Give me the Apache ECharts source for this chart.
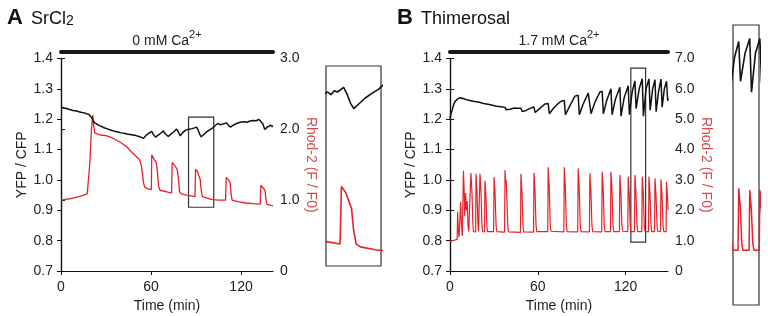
<!DOCTYPE html>
<html>
<head>
<meta charset="utf-8">
<script src="https://cdn.jsdelivr.net/npm/echarts@6/dist/echarts.min.js"></script>
<style>
html, body { margin: 0; padding: 0; background: #fff; }
#chart { width: 768px; height: 316px; }
</style>
</head>
<body>
<div id="chart"></div>
<script>
// panel A: SrCl2 in 0 mM Ca2+ ; [time (min), value]
var a_ratio = [[0,1.241],[1,1.238],[2,1.236],[3.5,1.236],[5,1.233],[6.5,1.231],[8,1.229],[9.5,1.228],[11,1.226],[12.5,1.224],[14,1.222],[15.5,1.221],[17,1.218],[18.5,1.216],[19.5,1.213],[20.5,1.205],[21.5,1.195],[22.5,1.188],[24,1.184],[25.5,1.179],[27,1.176],[28.5,1.172],[30,1.170],[32,1.166],[34,1.163],[36,1.160],[38,1.158],[40,1.155],[42,1.154],[44,1.151],[46,1.150],[48,1.148],[50,1.146],[52,1.143],[53.5,1.140],[55,1.137],[56.5,1.146],[58,1.152],[60.4,1.160],[61.5,1.150],[63,1.141],[64.5,1.147],[66,1.152],[68.2,1.161],[69.5,1.152],[71.5,1.143],[73,1.150],[75,1.158],[77,1.168],[78.2,1.158],[79.5,1.145],[81,1.155],[83,1.164],[84,1.163],[85.5,1.167],[86.5,1.163],[87.5,1.169],[88.5,1.167],[90.4,1.174],[91.5,1.163],[92.5,1.150],[93.5,1.142],[95,1.149],[97,1.158],[99,1.165],[101,1.171],[103,1.180],[104.5,1.186],[106,1.182],[108,1.184],[110.4,1.188],[111.5,1.180],[113,1.174],[115,1.181],[117,1.186],[119.5,1.190],[122,1.192],[124,1.190],[126,1.194],[128,1.196],[130,1.195],[132,1.199],[133.3,1.200],[134.5,1.185],[135.8,1.166],[137.5,1.174],[139.5,1.180],[141.3,1.176]];
var a_rhod = [[0,1.00],[3,1.01],[6,1.02],[9,1.035],[12,1.05],[15,1.07],[17.5,1.09],[18.5,1.11],[19.3,1.55],[20.3,2.0],[21.2,2.2],[21.8,2.05],[22.5,1.95],[23.5,1.93],[26,1.92],[30,1.91],[33,1.89],[36,1.86],[40,1.81],[44,1.75],[47,1.68],[50,1.62],[52.4,1.57],[53.6,1.48],[54.4,1.35],[55,1.24],[56,1.18],[58,1.16],[60.2,1.15],[60.5,1.64],[62,1.58],[63.5,1.53],[64.3,1.40],[65,1.20],[66,1.14],[70,1.12],[73.7,1.10],[74.1,1.53],[75.5,1.50],[77.5,1.43],[78.3,1.30],[79,1.12],[80,1.09],[84,1.07],[89.3,1.05],[89.7,1.44],[91,1.40],[92.8,1.29],[93.4,1.15],[94.2,1.05],[95.5,1.03],[100,1.01],[105,1.00],[109.7,1.00],[110.1,1.32],[111.5,1.29],[112.7,1.25],[113.3,1.10],[114,1.0],[118,0.98],[123,0.96],[128,0.95],[132.8,0.945],[133.2,1.21],[134.5,1.19],[136,1.14],[136.6,1.0],[137.3,0.94],[139.5,0.93],[141.3,0.92]];

// panel B: thimerosal in 1.7 mM Ca2+
var b_ratio = [[0,1.203],[0.8,1.22],[1.6,1.232],[2.5,1.248],[3.4,1.258],[5,1.266],[6.8,1.271],[8,1.265],[9,1.268],[12,1.263],[15,1.26],[17,1.258],[20,1.256],[23,1.252],[26,1.249],[29,1.246],[32,1.243],[35,1.241],[37.6,1.239],[38.4,1.231],[41,1.233],[44,1.237],[46,1.236],[48.5,1.236],[49.3,1.225],[52,1.229],[55.8,1.238],[57.4,1.24],[58.2,1.222],[61,1.234],[64.9,1.25],[67.1,1.252],[67.9,1.218],[71,1.238],[74,1.252],[76.3,1.26],[78.1,1.262],[78.9,1.215],[82,1.245],[85.4,1.276],[87.6,1.279],[88.4,1.215],[91,1.25],[94.5,1.286],[95.6,1.288],[96.4,1.218],[99,1.255],[102.5,1.29],[104,1.292],[104.8,1.218],[107,1.26],[110,1.3],[110.8,1.215],[113,1.265],[116.1,1.305],[116.9,1.21],[119,1.27],[121.8,1.31],[122.6,1.215],[124.5,1.29],[126.4,1.326],[127.2,1.235],[129.3,1.3],[131.4,1.333],[132.2,1.21],[134,1.3],[136,1.333],[136.8,1.23],[138.5,1.3],[140.1,1.33],[140.9,1.225],[142.5,1.29],[144.2,1.332],[145,1.24],[146.5,1.3],[148,1.325],[148.8,1.26],[149,1.27]];
var b_rhod = [[0,0.99],[2,1.0],[3.5,1.02],[4.9,1.05],[5.2,1.95],[5.7,1.35],[6.2,1.12],[7.0,1.12],[7.3,2.28],[7.8,1.55],[8.4,1.15],[8.9,1.18],[9.2,3.30],[9.7,2.6],[10.1,1.8],[10.7,2.57],[11.2,2.0],[11.8,2.3],[12.3,1.5],[12.8,1.3],[14.0,1.28],[14.3,3.23],[15.0,2.6],[15.6,1.6],[16.0,1.3],[17.5,1.29],[17.8,3.20],[18.5,2.6],[19.1,1.55],[19.5,1.3],[20.2,1.29],[20.5,3.20],[21.2,2.6],[21.8,1.55],[22.2,1.3],[23.6,1.29],[23.9,2.97],[24.6,2.45],[25.2,1.5],[25.6,1.3],[29.8,1.3],[30.1,3.10],[30.8,2.55],[31.5,1.5],[32,1.3],[37.3,1.28],[37.6,3.33],[38.0,2.9],[38.4,3.0],[39.0,2.2],[39.6,1.4],[40.1,1.29],[48.2,1.27],[48.5,3.20],[49.2,2.6],[49.9,1.5],[50.4,1.29],[57.1,1.28],[57.4,3.24],[58.1,2.65],[58.8,1.5],[59.3,1.3],[66.8,1.3],[67.1,3.42],[67.8,2.8],[68.5,1.55],[69,1.31],[77.8,1.29],[78.1,3.42],[78.8,2.8],[79.5,1.55],[80,1.3],[87.3,1.29],[87.6,3.38],[88.3,2.75],[89,1.55],[89.5,1.3],[95.3,1.29],[95.6,3.22],[96.3,2.65],[97,1.5],[97.5,1.3],[103.7,1.29],[104.0,3.27],[104.7,2.7],[105.4,1.5],[105.9,1.3],[109.7,1.3],[110.0,3.27],[110.7,2.7],[111.4,1.5],[111.9,1.3],[115.8,1.3],[116.1,3.16],[116.8,2.6],[117.5,1.5],[118,1.31],[121.5,1.3],[121.8,3.11],[122.5,2.55],[123.2,1.5],[123.7,1.3],[126.1,1.3],[126.4,3.16],[127.1,2.6],[127.8,1.5],[128.3,1.3],[131.1,1.3],[131.4,3.11],[132.1,2.55],[132.8,1.5],[133.3,1.3],[135.7,1.3],[136.0,3.11],[136.7,2.55],[137.4,1.5],[137.9,1.3],[139.8,1.3],[140.1,3.05],[140.8,2.5],[141.5,1.5],[142,1.31],[143.9,1.3],[144.2,3.02],[144.9,2.5],[145.6,1.5],[146.1,1.3],[147.7,1.3],[148.0,2.94],[148.7,2.4],[149,2.0]];

// axis ranges
var a_time = [0, 141.3];
var b_time = [0, 149];
var ratio_range = [0.7, 1.4];
var a_rhod_range = [0, 3];
var b_rhod_range = [0, 7];
var time_ticks = 60;

// boxed regions (time, YFP/CFP) and the zoomed insets
var a_box = [[85, 1.207], [101.8, 0.91]];
var b_box = [[123.6, 1.368], [133.7, 0.795]];
var a_zoom_t = [85, 101.8], a_zoom_ratio = [0.906, 1.206], a_zoom_rhod = [0.9, 2.26];
var b_zoom_t = [123.8, 135.6], b_zoom_ratio = [0.722, 1.364], b_zoom_rhod = [-0.34, 8.06];

var FONT = 'Liberation Sans, Arial, sans-serif';
var BLACK = '#111';
var RED = '#e8202a';

var myChart = echarts.init(document.getElementById('chart'));

function timeAxis(g, range) {
	return {
		type: 'value', gridIndex: g, min: range[0], max: range[1], interval: time_ticks,
		axisLine: { show: true, lineStyle: { color: BLACK, width: 1.2 } },
		axisTick: { show: true, length: 4, lineStyle: { color: BLACK } },
		axisLabel: { color: '#222', fontSize: 14, fontFamily: FONT, margin: 9, showMaxLabel: false },
		splitLine: { show: false },
		name: 'Time (min)', nameLocation: 'middle', nameGap: 28,
		nameTextStyle: { color: '#222', fontSize: 14, fontFamily: FONT }
	};
}
// the thick bar over each panel
function barAxis(g, range, label) {
	return {
		type: 'value', gridIndex: g, position: 'top', offset: 7, min: range[0], max: range[1],
		axisLine: { show: true, lineStyle: { color: '#1a1a1a', width: 4 } },
		axisTick: { show: false }, axisLabel: { show: false }, splitLine: { show: false },
		name: '{n|' + label + '}{s|2+}', nameLocation: 'middle', nameGap: 3,
		nameTextStyle: {
			color: '#222', fontFamily: FONT,
			rich: {
				n: { fontSize: 14, fontFamily: FONT, color: '#222', verticalAlign: 'bottom' },
				s: { fontSize: 11, fontFamily: FONT, color: '#222', verticalAlign: 'bottom', padding: [0, 0, 8, 0] }
			}
		}
	};
}
function ratioAxis(g, gap) {
	return {
		type: 'value', gridIndex: g, position: 'left', min: ratio_range[0], max: ratio_range[1], interval: 0.1,
		axisLine: { show: true, lineStyle: { color: BLACK, width: 1.2 } },
		axisTick: { show: true, length: 4, lineStyle: { color: BLACK } },
		axisLabel: { color: '#222', fontSize: 14, fontFamily: FONT, margin: 8, formatter: function (v) { return v.toFixed(1); } },
		splitLine: { show: false },
		name: 'YFP / CFP', nameLocation: 'middle', nameGap: gap, nameRotate: 90,
		nameTextStyle: { color: '#222', fontSize: 14, fontFamily: FONT }
	};
}
function rhodAxis(g, range, gap) {
	return {
		type: 'value', gridIndex: g, position: 'right', min: range[0], max: range[1], interval: 1,
		axisLine: { show: true, lineStyle: { color: BLACK, width: 1.2 } },
		axisTick: { show: true, length: 4, lineStyle: { color: BLACK } },
		axisLabel: { color: '#222', fontSize: 14, fontFamily: FONT, margin: 7, formatter: function (v) { return v === 0 ? '0' : v.toFixed(1); } },
		splitLine: { show: false },
		name: 'Rhod-2 (F / F0)', nameLocation: 'middle', nameGap: gap, nameRotate: -90,
		nameTextStyle: { color: '#d84a4a', fontSize: 14, fontFamily: FONT }
	};
}
function hiddenAxis(g, range) {
	return { type: 'value', gridIndex: g, min: range[0], max: range[1], show: false, splitLine: { show: false } };
}
function line(name, data, xi, yi, color, w) {
	return {
		name: name, type: 'line', data: data, xAxisIndex: xi, yAxisIndex: yi,
		showSymbol: false, symbol: 'none', silent: true, animation: false, clip: true,
		lineStyle: { color: color, width: w }, z: color === RED ? 2 : 3
	};
}
function boxArea(box) {
	return {
		silent: true,
		itemStyle: { color: 'rgba(0,0,0,0)', borderColor: '#333', borderWidth: 1.2 },
		data: [[{ coord: box[0] }, { coord: box[1] }]]
	};
}

var sA = line('A ratio', a_ratio, 0, 0, BLACK, 1.5);
sA.markArea = boxArea(a_box);
var sB = line('B ratio', b_ratio, 3, 4, BLACK, 1.5);
sB.markArea = boxArea(b_box);

var option = {
	backgroundColor: '#fff',
	animation: false,
	title: [
		{ text: '{b|A}{t|SrCl}{s|2}', left: 2, top: 2,
		  textStyle: { fontWeight: 'normal', rich: {
			b: { fontSize: 22, fontWeight: 'bold', fontFamily: FONT, color: '#111', verticalAlign: 'bottom' },
			t: { fontSize: 18, fontWeight: 'normal', fontFamily: FONT, color: '#111', verticalAlign: 'bottom', padding: [0, 0, 1, 8] },
			s: { fontSize: 14, fontWeight: 'normal', fontFamily: FONT, color: '#111', verticalAlign: 'bottom', padding: [0, 0, 1, 0] } } } },
		{ text: '{b|B}{t|Thimerosal}', left: 392, top: 2,
		  textStyle: { fontWeight: 'normal', rich: {
			b: { fontSize: 22, fontWeight: 'bold', fontFamily: FONT, color: '#111', verticalAlign: 'bottom' },
			t: { fontSize: 18, fontWeight: 'normal', fontFamily: FONT, color: '#111', verticalAlign: 'bottom', padding: [0, 0, 1, 8] } } } }
	],
	grid: [
		{ left: 61, top: 58.5, width: 212, height: 212.5, outerBoundsMode: 'none' },
		{ left: 326, top: 66, width: 55, height: 200, show: true, borderColor: '#333', borderWidth: 1.2, backgroundColor: 'rgba(0,0,0,0)', outerBoundsMode: 'none' },
		{ left: 450, top: 58.5, width: 218, height: 212.5, outerBoundsMode: 'none' },
		{ left: 733, top: 25, width: 26, height: 280, show: true, borderColor: '#333', borderWidth: 1.2, backgroundColor: 'rgba(0,0,0,0)', outerBoundsMode: 'none' }
	],
	xAxis: [
		timeAxis(0, a_time),
		barAxis(0, a_time, '0 mM Ca'),
		hiddenAxis(1, a_zoom_t),
		timeAxis(2, b_time),
		barAxis(2, b_time, '1.7 mM Ca'),
		hiddenAxis(3, b_zoom_t)
	],
	yAxis: [
		ratioAxis(0, 30),
		rhodAxis(0, a_rhod_range, 23),
		hiddenAxis(1, a_zoom_ratio),
		hiddenAxis(1, a_zoom_rhod),
		ratioAxis(2, 31),
		rhodAxis(2, b_rhod_range, 30),
		hiddenAxis(3, b_zoom_ratio),
		hiddenAxis(3, b_zoom_rhod)
	],
	series: [
		sA,
		line('A rhod', a_rhod, 0, 1, RED, 1.3),
		line('A ratio zoom', a_ratio, 2, 2, BLACK, 1.6),
		line('A rhod zoom', a_rhod, 2, 3, RED, 1.6),
		sB,
		line('B rhod', b_rhod, 3, 5, RED, 1.2),
		line('B ratio zoom', b_ratio, 5, 6, BLACK, 1.6),
		line('B rhod zoom', b_rhod, 5, 7, RED, 1.5)
	]
};
myChart.setOption(option);
window.addEventListener('resize', function () {
	myChart.resize();
});
</script>
</body>
</html>
